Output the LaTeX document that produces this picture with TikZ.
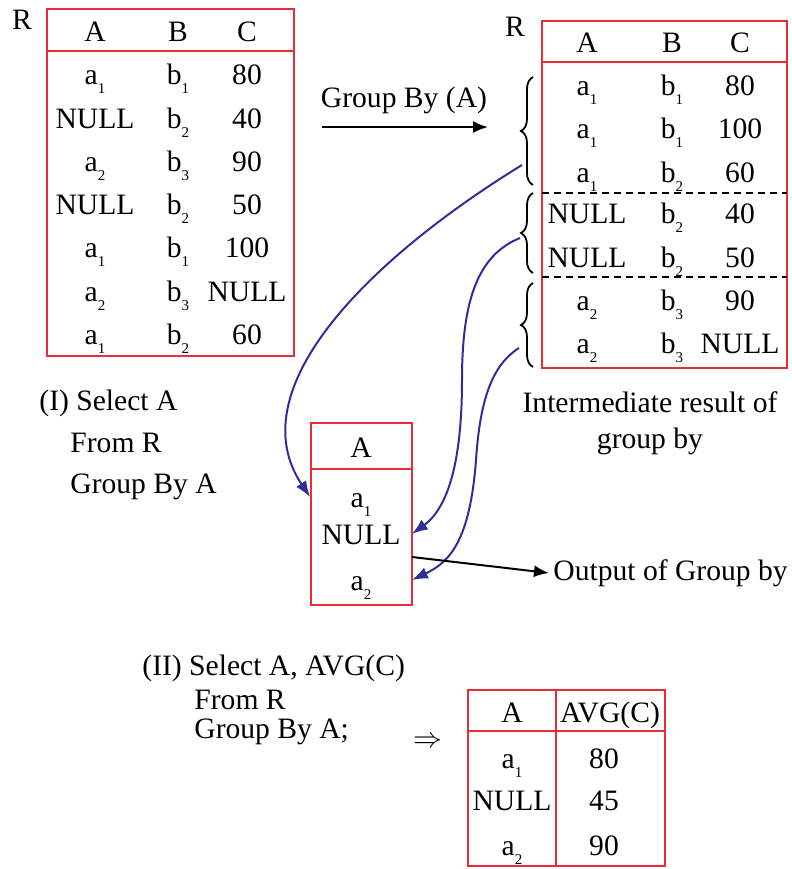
\documentclass[tikz,border=0pt]{standalone}
\usepackage{fontspec}
\setmainfont{Liberation Serif}
\usepackage{tikz}
\usetikzlibrary{arrows.meta,decorations.pathreplacing,calc,positioning}

\definecolor{tabred}{RGB}{232,44,56}
\definecolor{flowblue}{RGB}{46,46,150}
% letter with a small lowered index
\newcommand{\sbs}[2]{#1\raisebox{-0.7ex}{\fontsize{7.5}{8}\selectfont #2}}

\begin{document}
\begin{tikzpicture}[x=0.5pt,y=-0.5pt,
  every node/.style={font=\fontsize{14.8}{17}\selectfont, inner sep=2pt},
  cell/.style={text height=10pt, text depth=0pt},
  tbl/.style={draw=tabred, line width=1.4pt},
  grp/.style={dash pattern=on 3.5pt off 2.5pt, line width=1pt},
  brc/.style={decorate, decoration={brace, amplitude=6pt}, line width=0.9pt},
  link/.style={draw=flowblue, line width=1pt, -{Latex[length=8pt,width=6pt]}},
  res/.style={line width=1pt, -{Latex[length=7.5pt,width=6pt]}},
  row/.style={minimum width=50.5pt, inner sep=0pt}]
\useasboundingbox (0,0) rectangle (792,869);

% relation R
\node (rname) at (22,20) {R};
\draw[tbl] (47,9) rectangle (294,356);
\draw[tbl] (47,51) -- (294,51);
\begin{scope}[every node/.append style=cell]
\node (rA) at (95,31) {A};
\node (rB) at (178,31) {B};
\node (rC) at (247,31) {C};
\node (r1a) at (95,74) {\sbs{a}{1}};
\node (r1b) at (178,74) {\sbs{b}{1}};
\node (r1c) at (247,74) {80};
\node (r2a) at (95,118) {NULL};
\node (r2b) at (178,118) {\sbs{b}{2}};
\node (r2c) at (247,118) {40};
\node (r3a) at (95,161) {\sbs{a}{2}};
\node (r3b) at (178,161) {\sbs{b}{3}};
\node (r3c) at (247,161) {90};
\node (r4a) at (95,204) {NULL};
\node (r4b) at (178,204) {\sbs{b}{2}};
\node (r4c) at (247,204) {50};
\node (r5a) at (95,247) {\sbs{a}{1}};
\node (r5b) at (178,247) {\sbs{b}{1}};
\node (r5c) at (247,247) {100};
\node (r6a) at (95,291) {\sbs{a}{2}};
\node (r6b) at (178,291) {\sbs{b}{3}};
\node (r6c) at (247,291) {NULL};
\node (r7a) at (95,334) {\sbs{a}{1}};
\node (r7b) at (178,334) {\sbs{b}{2}};
\node (r7c) at (247,334) {60};
\end{scope}

% grouping step
\coordinate (gs) at (322,127);
\coordinate (ge) at (488,127);
\node (gb) at (404,100) {Group By (A)};
\draw[res] (gs) -- (ge);

% R after grouping
\node (sname) at (515,27) {R};
\draw[tbl] (542,21) rectangle (787,368);
\draw[tbl] (542,62) -- (787,62);
\draw[grp] (542,193) -- (787,193);
\draw[grp] (542,277) -- (787,277);
\begin{scope}[every node/.append style=cell]
\node (sA) at (587,42) {A};
\node (sB) at (672,42) {B};
\node (sC) at (740,42) {C};
\node (s1a) at (587,85) {\sbs{a}{1}};
\node (s1b) at (672,85) {\sbs{b}{1}};
\node (s1c) at (740,85) {80};
\node (s2a) at (587,128) {\sbs{a}{1}};
\node (s2b) at (672,128) {\sbs{b}{1}};
\node (s2c) at (740,128) {100};
\node (s3a) at (587,172) {\sbs{a}{1}};
\node (s3b) at (672,172) {\sbs{b}{2}};
\node (s3c) at (740,172) {60};
\node (s4a) at (587,213) {NULL};
\node (s4b) at (672,213) {\sbs{b}{2}};
\node (s4c) at (740,213) {40};
\node (s5a) at (587,257) {NULL};
\node (s5b) at (672,257) {\sbs{b}{2}};
\node (s5c) at (740,257) {50};
\node (s6a) at (587,300) {\sbs{a}{2}};
\node (s6b) at (672,300) {\sbs{b}{3}};
\node (s6c) at (740,300) {90};
\node (s7a) at (587,343) {\sbs{a}{2}};
\node (s7b) at (672,343) {\sbs{b}{3}};
\node (s7c) at (740,343) {NULL};
\end{scope}
\draw[brc] (533,185) -- (533,77);
\draw[brc] (533,273) -- (533,193);
\draw[brc] (533,367) -- (533,283);
\coordinate (g1) at (522,165);
\coordinate (g2) at (520,238);
\coordinate (g3) at (519,348);
\node (mid) at (650,423) [align=center] {Intermediate result of\\[1pt]group by};

% query (I) and its output
\node (q1a) at (35,403) [anchor=west] {(I) Select A};
\node (q1b) at (66,443) [anchor=west] {From R};
\node (q1c) at (66,487) [anchor=west] {Group By A};
\draw[tbl] (311,423) rectangle (412,605);
\draw[tbl] (311,469) -- (412,469);
\begin{scope}[every node/.append style=cell]
\node (oA) at (361,447) {A};
\node[row] (o1) at (361,497) {\sbs{a}{1}};
\node[row] (o2) at (361,534) {NULL};
\node[row] (o3) at (361,580) {\sbs{a}{2}};
\end{scope}
\draw[link] (g1) .. controls (369,259) and (238,389) .. (o1.west);
\draw[link] (g2) .. controls (478,255) and (462,300) .. (462,380)
  .. controls (462,470) and (445,510) .. (o2.east);
\draw[link] (g3) .. controls (492,365) and (480,400) .. (476,460)
  .. controls (470,540) and (450,562) .. (o3.east);
\node (out) at (549,573) [anchor=west] {Output of Group by};
\draw[res] ($(o2.east)!0.5!(o3.east)$) -- (out.west);

% query (II) with AVG
\node (q2a) at (138,668) [anchor=west] {(II) Select A, AVG(C)};
\node (q2b) at (190,700) [anchor=west] {From R};
\node (q2c) at (190,732) [anchor=west] {Group By A;};
\node (imp) at (428,742) {$\Rightarrow$};
\draw[tbl] (468,690) rectangle (665,866);
\draw[tbl] (468,731) -- (665,731);
\draw[tbl] (556,690) -- (556,866);
\begin{scope}[every node/.append style=cell]
\node (vA) at (512,712) {A};
\node (vC) at (610,712) {AVG(C)};
\node (v1a) at (512,758) {\sbs{a}{1}};
\node (v1c) at (604,758) {80};
\node (v2a) at (512,800) {NULL};
\node (v2c) at (604,800) {45};
\node (v3a) at (512,845) {\sbs{a}{2}};
\node (v3c) at (604,845) {90};
\end{scope}
\end{tikzpicture}
\end{document}
